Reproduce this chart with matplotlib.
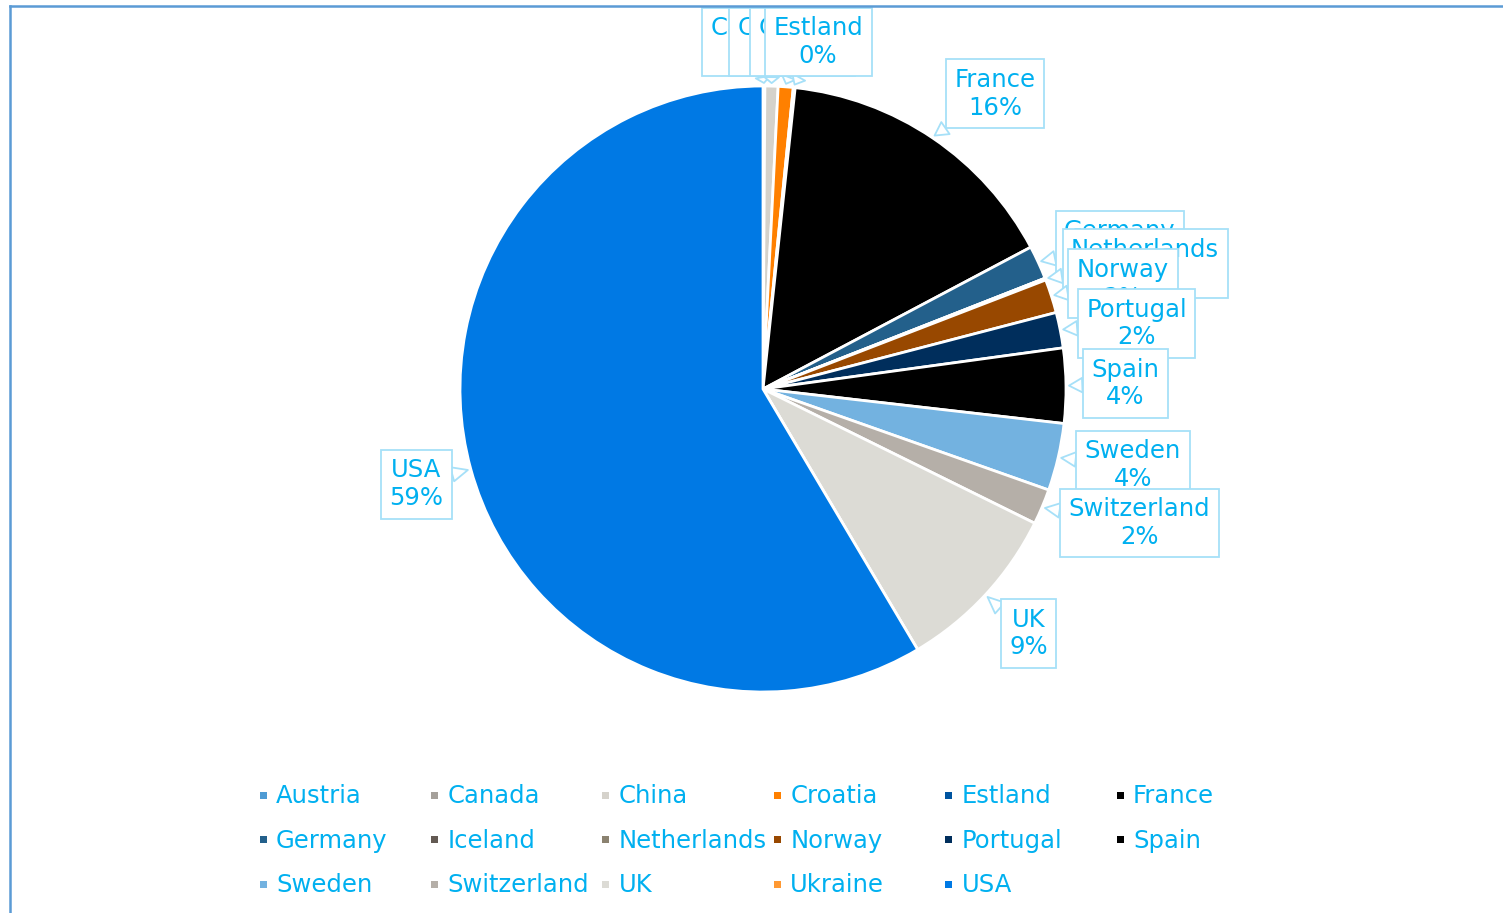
import numpy as np
import matplotlib
matplotlib.use("Agg")
import matplotlib.pyplot as plt
from matplotlib.lines import Line2D
from matplotlib.patches import Rectangle

countries = ['Austria', 'Canada', 'China', 'Croatia', 'Estland', 'France', 'Germany',
             'Iceland', 'Netherlands', 'Norway', 'Portugal', 'Spain', 'Sweden',
             'Switzerland', 'UK', 'Ukraine', 'USA']
shares = [0.0, 0.1, 0.7, 0.8, 0.1, 15.6, 1.8,
          0.0, 0.1, 1.8, 1.9, 4.0, 3.6,
          1.9, 9.2, 0.0, 58.7]
slice_colors = ['#4e9bd4', '#a5a09a', '#d5d2cb', '#ff8000', '#0054a0', '#000000', '#23608b',
                '#635a53', '#8b8270', '#984800', '#002e5c', '#000000', '#73b2e0',
                '#b5afa8', '#dcdbd5', '#ff9933', '#0079e4']

# label box centres (pie radius = 1)
label_pos = {
    'Canada': (-0.02, 1.145), 'China': (0.03, 1.145), 'Croatia': (0.13, 1.145),
    'Estland': (0.182, 1.145), 'France': (0.766, 0.974), 'Germany': (1.178, 0.475),
    'Netherlands': (1.261, 0.413), 'Norway': (1.188, 0.347), 'Portugal': (1.233, 0.216),
    'Spain': (1.196, 0.018), 'Sweden': (1.221, -0.251), 'Switzerland': (1.243, -0.442),
    'UK': (0.876, -0.807), 'USA': (-1.145, -0.314),
}

TXT = '#00b0f0'
BOX = '#a6e0f8'
FS = 17.5
W, H = 1503, 913
CX, CY, R = 763, 389, 303

fig = plt.figure(figsize=(W / 100, H / 100), dpi=100)
ax = fig.add_axes([0, 0, 1, 1])

wedges, _ = ax.pie(shares, colors=slice_colors, startangle=90, counterclock=False,
                   wedgeprops=dict(edgecolor='white', linewidth=2))
ax.set_xlim(-CX / R, (W - CX) / R)
ax.set_ylim(-(H - CY) / R, CY / R)
ax.set_aspect('equal')
ax.axis('off')

total = sum(shares)
for i, (name, val, w) in enumerate(zip(countries, shares, wedges)):
    if val <= 0:
        continue
    mid = np.deg2rad((w.theta1 + w.theta2) / 2)
    tip = (np.cos(mid) * 1.01, np.sin(mid) * 1.01)
    ax.annotate('%s\n%.0f%%' % (name, val / total * 100), xy=tip,
                xytext=label_pos[name], ha='center', va='center',
                multialignment='center', fontsize=FS, color=TXT, linespacing=1.2,
                bbox=dict(boxstyle='square,pad=0.35', fc='white', ec=BOX, lw=1.3),
                arrowprops=dict(arrowstyle='wedge,tail_width=0.6,shrink_factor=0.5',
                                fc='white', ec=BOX, lw=1.3, shrinkA=0, shrinkB=0),
                zorder=5 + i)

# legend laid out as a row-major grid like the original
for i, (name, col) in enumerate(zip(countries, slice_colors)):
    r, c = divmod(i, 6)
    mx = 263 + 171.4 * c
    my = 795 + 44.5 * r
    fig.add_artist(Rectangle(((mx - 3.5) / W, 1 - (my + 3.5) / H), 7 / W, 7 / H,
                             transform=fig.transFigure, fc=col, ec='none'))
    fig.text((mx + 13) / W, 1 - (my + 1) / H, name, fontsize=FS, color=TXT,
             ha='left', va='center')

# chart frame (only top and left edges are inside the picture)
fig.add_artist(Line2D([9.5 / W, 9.5 / W], [0, 1 - 6.5 / H], transform=fig.transFigure,
                      color='#5b9bd5', lw=1.8))
fig.add_artist(Line2D([9.5 / W, 1], [1 - 6.5 / H, 1 - 6.5 / H], transform=fig.transFigure,
                      color='#5b9bd5', lw=1.8))

fig.savefig('out.png', dpi=100, facecolor='white')
